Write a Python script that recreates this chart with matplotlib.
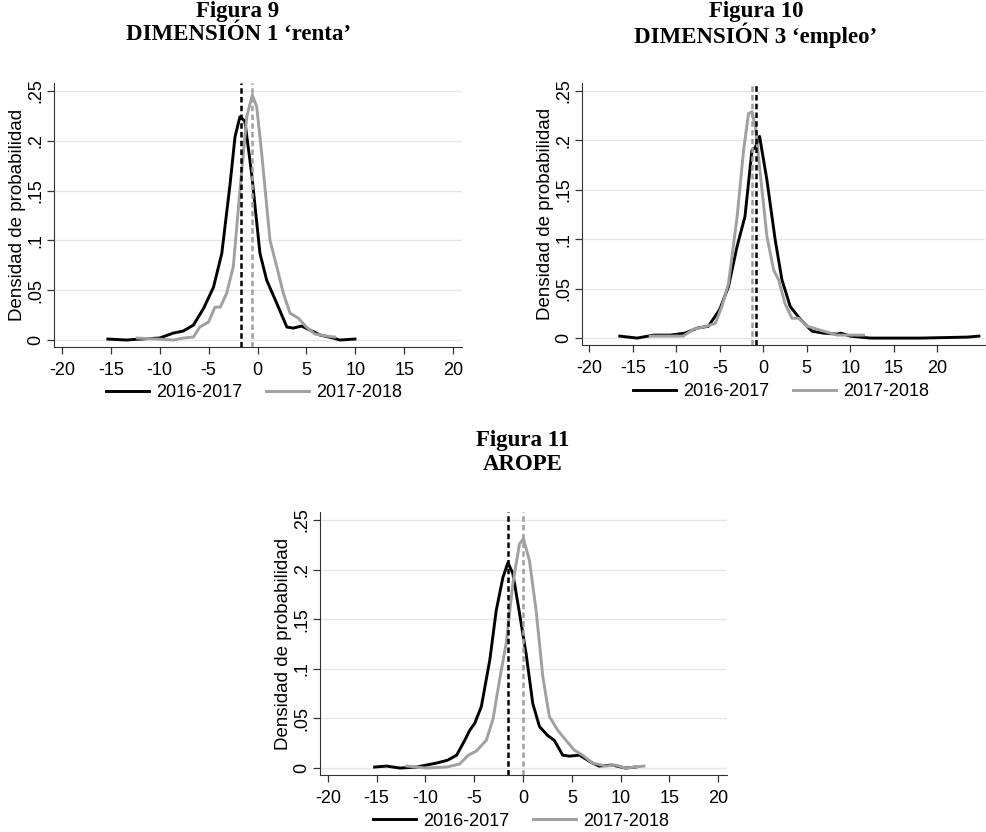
import numpy as np
import matplotlib.pyplot as plt

# densidades estimadas
# Figura 9 - renta
r1_x = [-15.3, -13.4, -12.0, -10.0, -8.6, -7.6, -6.55, -5.5, -4.5, -3.65, -2.8, -2.3, -1.8, -1.3,
        -0.6, 0.25, 0.94, 1.96, 3.0, 3.66, 4.5, 5.36, 6.4, 7.75, 8.4, 9.96]
r1_y = [0.001, 0.0, 0.001, 0.002, 0.007, 0.009, 0.015, 0.032, 0.053, 0.087, 0.157, 0.204, 0.224, 0.22,
        0.167, 0.087, 0.060, 0.037, 0.013, 0.012, 0.014, 0.010, 0.005, 0.002, 0.0, 0.001]
r2_x = [-12.3, -10.3, -8.6, -7.6, -6.55, -5.9, -5.0, -4.35, -3.8, -3.15, -2.47, -1.8, -1.1, -0.53,
        -0.08, 0.43, 1.28, 1.96, 2.64, 3.32, 4.17, 5.0, 5.87, 7.06, 7.9]
r2_y = [0.002, 0.001, 0.0, 0.002, 0.003, 0.013, 0.018, 0.033, 0.033, 0.047, 0.074, 0.150, 0.224, 0.246,
        0.234, 0.187, 0.100, 0.074, 0.047, 0.027, 0.022, 0.013, 0.006, 0.004, 0.003]
r_means = [-1.72, -0.53]

# Figura 10 - empleo
e1_x = [-16.5, -14.5, -12.6, -10.7, -9.0, -7.6, -6.3, -5.0, -4.0, -3.0, -2.1, -1.3, -0.9, -0.42,
        0.42, 1.38, 2.15, 3.1, 4.26, 5.6, 6.95, 8.5, 8.9, 10.0, 12.3, 18.1, 23.5, 24.8]
e1_y = [0.002, 0.0, 0.003, 0.003, 0.005, 0.010, 0.012, 0.029, 0.052, 0.093, 0.123, 0.190, 0.193, 0.204,
        0.160, 0.099, 0.059, 0.032, 0.019, 0.007, 0.005, 0.004, 0.005, 0.002, 0.0, 0.0, 0.001, 0.002]
e2_x = [-13.0, -10.7, -9.2, -8.0, -6.5, -5.5, -4.76, -4.0, -3.0, -2.26, -1.7, -1.3, -0.9, -0.35,
        0.42, 1.19, 1.77, 2.5, 3.3, 4.07, 5.03, 6.56, 8.5, 10.4, 11.55]
e2_y = [0.002, 0.002, 0.002, 0.009, 0.012, 0.015, 0.032, 0.055, 0.123, 0.190, 0.227, 0.229, 0.214, 0.167,
        0.103, 0.069, 0.059, 0.035, 0.020, 0.020, 0.012, 0.008, 0.003, 0.003, 0.003]
e_means = [-0.80, -1.30]

# Figura 11 - AROPE
a1_x = [-15.2, -14.0, -12.6, -10.9, -9.9, -8.87, -7.7, -6.8, -5.97, -5.46, -4.95, -4.27, -3.4, -2.74,
        -2.06, -1.55, -1.04, -0.36, 0.32, 1.0, 1.68, 2.5, 3.2, 4.07, 4.75, 5.77, 7.13, 7.8, 9.17, 10.5, 11.56]
a1_y = [0.001, 0.002, 0.0, 0.001, 0.003, 0.005, 0.008, 0.013, 0.028, 0.038, 0.045, 0.062, 0.109, 0.159,
        0.192, 0.207, 0.196, 0.156, 0.115, 0.065, 0.042, 0.033, 0.028, 0.013, 0.012, 0.013, 0.005, 0.002,
        0.003, 0.0, 0.001]
a2_x = [-11.9, -9.9, -7.85, -6.5, -5.6, -4.8, -3.76, -3.08, -2.4, -1.72, -1.04, -0.36, 0.05, 0.66,
        1.34, 2.03, 2.7, 3.56, 4.4, 5.26, 6.1, 7.13, 8.5, 9.5, 10.5, 12.4]
a2_y = [0.002, 0.0, 0.001, 0.004, 0.013, 0.017, 0.028, 0.049, 0.089, 0.126, 0.186, 0.226, 0.231, 0.209,
        0.159, 0.092, 0.052, 0.038, 0.028, 0.018, 0.013, 0.005, 0.002, 0.003, 0.0, 0.002]
a_means = [-1.55, 0.0]

labels = ['2016-2017', '2017-2018']
colors = ['black', '#a0a0a0']

W, H = 986, 832
fig = plt.figure(figsize=(W / 100, H / 100), dpi=100)
plt.rcParams['font.family'] = 'Liberation Sans'


def panel(px, title1, title2, s1, s2, means, xlim, xticks, ylim, leg_xy, tit_xy):
    l, t, r, b = px
    ax = fig.add_axes([l / W, 1 - b / H, (r - l) / W, (b - t) / H])
    ax.plot(s1[0], s1[1], color=colors[0], lw=2.1, label=labels[0])
    ax.plot(s2[0], s2[1], color=colors[1], lw=2.1, label=labels[1])
    ax.axvline(means[0], color=colors[0], lw=1.8, ls=(0, (2.2, 1.3)))
    ax.axvline(means[1], color=colors[1], lw=1.8, ls=(0, (2.2, 1.3)))
    ax.set_xlim(xlim)
    ax.set_ylim(ylim)
    ax.set_xticks(xticks)
    ax.set_xticklabels([str(v) for v in xticks])
    yt = [0, 0.05, 0.1, 0.15, 0.2, 0.25]
    ax.set_yticks(yt)
    ax.set_yticklabels(['0', '.05', '.1', '.15', '.2', '.25'], rotation=90, va='center')
    ax.tick_params(labelsize=13, length=5, color='#333333', width=0.9)
    ax.tick_params(axis='y', pad=2)
    ax.tick_params(axis='x', pad=6)
    ax.set_ylabel('Densidad de probabilidad', fontsize=13.5, labelpad=1)
    ax.spines['top'].set_visible(False)
    ax.spines['right'].set_visible(False)
    ax.spines['left'].set_color('#333333')
    ax.spines['bottom'].set_color('#333333')
    ax.set_axisbelow(True)
    ax.yaxis.grid(color='#e6e6e6', lw=1.0)
    ax.legend(loc='center', bbox_to_anchor=(leg_xy[0] / W, 1 - leg_xy[1] / H),
              bbox_transform=fig.transFigure, ncol=2, frameon=False, fontsize=13,
              handlelength=2.4, columnspacing=1.3, handletextpad=0.4)
    fig.text(tit_xy[0] / W, 1 - tit_xy[1] / H, title1, ha='center', va='center',
             family='Liberation Serif', weight='bold', fontsize=16.5)
    fig.text(tit_xy[0] / W, 1 - (tit_xy[1] + 24) / H, title2, ha='center', va='center',
             family='Liberation Serif', weight='bold', fontsize=16.5)
    return ax


panel((54, 83, 462, 347), 'Figura 9', 'DIMENSIÓN 1 \u2018renta\u2019', (r1_x, r1_y), (r2_x, r2_y), r_means,
      (-20.8, 20.9), [-20, -15, -10, -5, 0, 5, 10, 15, 20], (-0.007, 0.258), (254, 393), (238, 11))
panel((582, 83, 985, 345), 'Figura 10', 'DIMENSIÓN 3 \u2018empleo\u2019', (e1_x, e1_y), (e2_x, e2_y), e_means,
      (-20.84, 25.5), [-20, -15, -10, -5, 0, 5, 10, 15, 20], (-0.007, 0.258), (781, 392), (756, 11))
panel((320, 512, 727, 775), 'Figura 11', 'AROPE', (a1_x, a1_y), (a2_x, a2_y), a_means,
      (-20.8, 20.9), [-20, -15, -10, -5, 0, 5, 10, 15, 20], (-0.007, 0.258), (521, 821), (523, 441))

fig.savefig('out.png', dpi=100, facecolor='white')
